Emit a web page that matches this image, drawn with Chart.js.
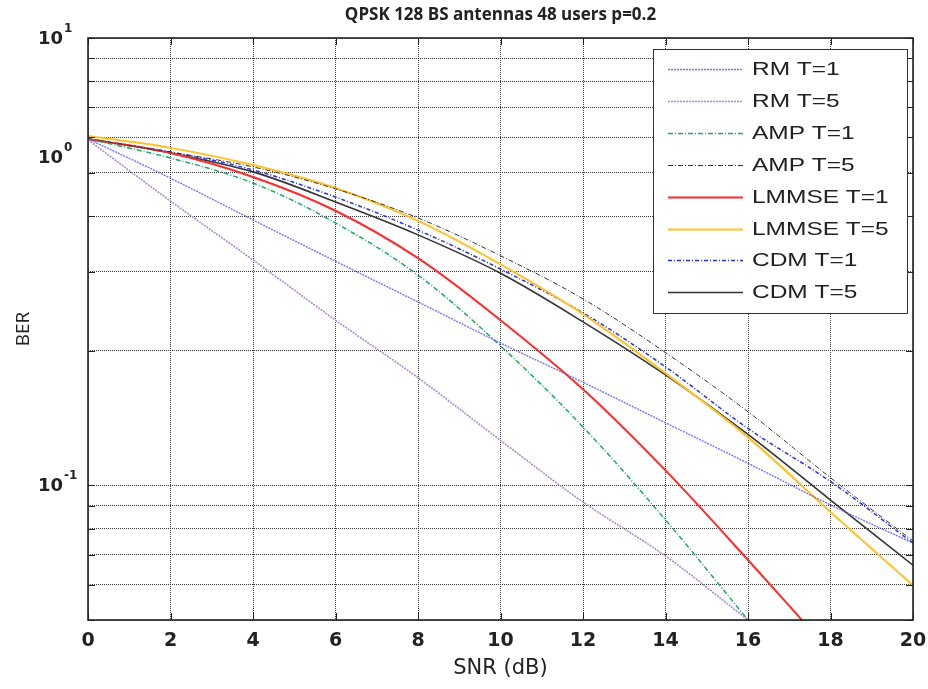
<!DOCTYPE html>
<html>
<head>
<meta charset="utf-8">
<script src="https://cdn.jsdelivr.net/npm/chart.js@4.4.0/dist/chart.umd.min.js"></script>
<style>
    html, body { margin: 0; padding: 0; background: #fff; }
    #wrap { width: 928px; height: 689px; }
</style>
</head>
<body>
<div id="wrap"><canvas id="berChart" width="928" height="689"></canvas></div>
<script>
// ================= DATA =================
const snrDb = [0, 2, 4, 6, 8, 10, 12, 14, 16, 18, 20];

// BER (null = below the plotted range)
const berRmT1    = [0.595, 0.486, 0.392, 0.317, 0.257, 0.208, 0.170, 0.138, 0.112, 0.0904, 0.0743];
const berRmT5    = [0.592, 0.432, 0.319, 0.234, 0.174, 0.126, 0.0918, 0.0695, 0.050, null, null];
const berAmpT1   = [0.595, 0.539, 0.474, 0.386, 0.295, 0.205, 0.135, 0.0837, 0.050, null, null];
const berAmpT5   = [0.595, 0.556, 0.515, 0.460, 0.396, 0.326, 0.261, 0.198, 0.146, 0.104, 0.0751];
const berLmmseT1 = [0.595, 0.553, 0.489, 0.411, 0.322, 0.234, 0.164, 0.108, 0.0681, 0.0424, null];
const berLmmseT5 = [0.604, 0.568, 0.520, 0.462, 0.390, 0.312, 0.2415, 0.178, 0.128, 0.0872, 0.0598];
const berCdmT1   = [0.595, 0.556, 0.507, 0.441, 0.372, 0.3045, 0.243, 0.184, 0.134, 0.102, 0.0743];
const berCdmT5   = [0.595, 0.553, 0.502, 0.430, 0.363, 0.298, 0.232, 0.1765, 0.130, 0.0927, 0.0663];

const seriesLabels = ['RM T=1', 'RM T=5', 'AMP T=1', 'AMP T=5', 'LMMSE T=1', 'LMMSE T=5', 'CDM T=1', 'CDM T=5'];

const yGridValues = [0.05, 0.06, 0.07, 0.08, 0.09, 0.1, 0.2, 0.3, 0.4, 0.5, 0.6, 0.7, 0.8, 0.9, 1];
const yTickLabels = [
    { value: 1,     base: '10', exp: '1' },
    { value: 0.542, base: '10', exp: '0' },
    { value: 0.1,   base: '10', exp: '-1' }
];

const TITLE = 'QPSK 128 BS antennas 48 users p=0.2';

// ================= HELPERS =================
function toPoints(values) {
    const pts = [];
    values.forEach((v, i) => { if (v !== null) pts.push({ x: snrDb[i], y: v }); });
    return pts;
}

function series(label, values, color, width, dash) {
    return {
        label: label,
        data: toPoints(values),
        borderColor: color,
        borderWidth: width,
        borderDash: dash,
        pointRadius: 0,
        fill: false,
        tension: 0.35
    };
}

// ================= PLUGINS =================
// title centred over the plot area (not the canvas)
const plotTitle = {
    id: 'plotTitle',
    afterDraw(chart) {
        const { ctx, chartArea: a } = chart;
        ctx.save();
        ctx.fillStyle = '#222';
        ctx.font = 'bold 17px "Open Sans"';
        ctx.textAlign = 'center';
        ctx.textBaseline = 'middle';
        ctx.fillText(TITLE, (a.left + a.right) / 2, 15);
        ctx.restore();
    }
};

// box + inward tick marks, matlab style
const frame = {
    id: 'frame',
    afterDatasetsDraw(chart) {
        const { ctx, chartArea: a, scales } = chart;
        ctx.save();
        ctx.strokeStyle = '#222';
        ctx.lineWidth = 1;
        ctx.setLineDash([]);
        ctx.beginPath();
        scales.x.ticks.forEach(t => {
            const px = Math.round(scales.x.getPixelForValue(t.value)) + 0.5;
            ctx.moveTo(px, a.bottom); ctx.lineTo(px, a.bottom - 7);
            ctx.moveTo(px, a.top); ctx.lineTo(px, a.top + 7);
        });
        yGridValues.forEach(v => {
            const py = Math.round(scales.y.getPixelForValue(v)) + 0.5;
            ctx.moveTo(a.left, py); ctx.lineTo(a.left + 7, py);
            ctx.moveTo(a.right, py); ctx.lineTo(a.right - 7, py);
        });
        ctx.stroke();
        ctx.lineWidth = 1.6;
        ctx.strokeRect(a.left, a.top, a.right - a.left, a.bottom - a.top);
        ctx.restore();
    }
};

const legendBox = {
    id: 'legendBox',
    afterDatasetsDraw(chart) {
        const { ctx, chartArea: a } = chart;
        const w = 254, h = 264;
        const left = a.right - 6 - w, top = a.top + 11;
        ctx.save();
        ctx.fillStyle = '#fff';
        ctx.fillRect(left, top, w, h);
        ctx.strokeStyle = '#333';
        ctx.lineWidth = 1;
        ctx.strokeRect(left + 0.5, top + 0.5, w, h);

        chart.data.datasets.forEach((ds, i) => {
            const y = Math.round(top + 20 + i * 31.9) + 0.5;
            ctx.strokeStyle = ds.borderColor;
            ctx.lineWidth = ds.borderWidth;
            ctx.setLineDash(ds.borderDash || []);
            ctx.beginPath();
            ctx.moveTo(left + 15, y);
            ctx.lineTo(left + 90, y);
            ctx.stroke();

            ctx.save();
            ctx.translate(left + 99, y + 1);
            ctx.scale(1.36, 1);
            ctx.fillStyle = '#222';
            ctx.font = '18px "Liberation Sans", Arial, sans-serif';
            ctx.textBaseline = 'middle';
            ctx.fillText(ds.label, 0, 0);
            ctx.restore();
        });
        ctx.restore();
    }
};

const yLabels = {
    id: 'yLabels',
    afterDraw(chart) {
        const { ctx, scales } = chart;
        ctx.save();
        ctx.fillStyle = '#222';
        ctx.textBaseline = 'middle';
        yTickLabels.forEach(t => {
            const py = scales.y.getPixelForValue(t.value);
            ctx.font = 'bold 18px "DejaVu Sans"';
            ctx.fillText(t.base, 38, py + 1);
            const bw = ctx.measureText(t.base).width;
            ctx.font = 'bold 12px "DejaVu Sans"';
            ctx.fillText(t.exp, 38 + bw + 1, py - 9);
        });
        ctx.restore();
    }
};

// ================= CHART =================
function init() {
    const ctx = document.getElementById('berChart').getContext('2d');

    new Chart(ctx, {
        type: 'line',
        data: {
            datasets: [
                series(seriesLabels[0], berRmT1,    'rgba(80, 80, 255, 0.8)', 1.4, [2, 1]),
                series(seriesLabels[1], berRmT5,    '#a98bd0',                1.6, [2, 1]),
                series(seriesLabels[2], berAmpT1,   '#1faa62',                1.5, [5, 2, 1, 2]),
                series(seriesLabels[3], berAmpT5,   '#333333',                1,   [5, 2, 1, 2]),
                series(seriesLabels[4], berLmmseT1, '#ff2a2a',                2,   []),
                series(seriesLabels[5], berLmmseT5, '#ffc125',                2,   []),
                series(seriesLabels[6], berCdmT1,   '#2233ee',                1.5, [4, 2, 1, 2]),
                series(seriesLabels[7], berCdmT5,   '#333333',                1.6, [])
            ]
        },
        options: {
            responsive: false,
            animation: false,
            layout: { padding: { left: 0, right: 15, top: 38, bottom: 0 } },
            plugins: {
                legend: { display: false },
                tooltip: { enabled: false },
                title: { display: false }
            },
            scales: {
                x: {
                    type: 'linear',
                    min: 0,
                    max: 20,
                    ticks: {
                        stepSize: 2,
                        color: '#222',
                        padding: 10,
                        maxRotation: 0,
                        font: { family: '"DejaVu Sans"', size: 19, weight: 'bold' }
                    },
                    grid: { color: '#3a3a3a', drawTicks: false },
                    border: { display: false, dash: [1, 1] },
                    title: {
                        display: true,
                        text: 'SNR (dB)',
                        color: '#222',
                        font: { family: '"DejaVu Sans"', size: 21 },
                        padding: { top: 0, bottom: 8 }
                    },
                    afterFit(scale) {
                        scale.height = 69;
                        // let the edge labels overhang instead of shrinking the plot
                        scale.paddingLeft = 0;
                        scale.paddingRight = 0;
                    }
                },
                y: {
                    type: 'logarithmic',
                    min: 0.05,
                    max: 1,
                    ticks: { display: false },
                    grid: { color: '#3a3a3a', drawTicks: false },
                    border: { display: false, dash: [1, 1] },
                    title: {
                        display: true,
                        text: 'BER',
                        color: '#222',
                        font: { family: '"Open Sans"', size: 19 },
                        padding: { top: 12, bottom: 0 }
                    },
                    afterBuildTicks(scale) {
                        scale.ticks = yGridValues.map(v => ({ value: v }));
                    },
                    afterFit(scale) { scale.width = 88; }
                }
            }
        },
        plugins: [frame, legendBox, yLabels, plotTitle]
    });
}

window.addEventListener('DOMContentLoaded', init);
</script>
</body>
</html>
